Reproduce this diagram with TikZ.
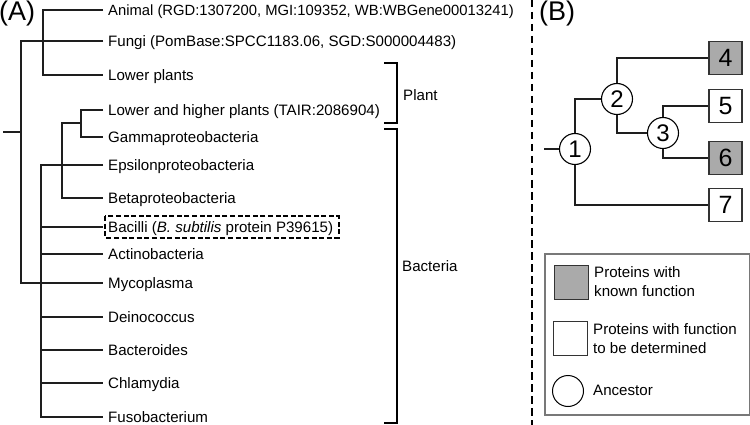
\documentclass[tikz,border=0pt]{standalone}
\usepackage{fontspec}
\setmainfont{Liberation Sans}
\definecolor{knownfill}{RGB}{170,170,170}
\definecolor{legframe}{RGB}{120,120,120}
\definecolor{treeline}{RGB}{30,30,30}
\begin{document}
\begin{tikzpicture}[x=1pt,y=-1pt,
  every node/.style={font=\fontsize{15.1}{19}\selectfont},
  leaf/.style={anchor=west,inner xsep=5pt,inner ysep=0pt,text height=11pt,text depth=0pt},
  tline/.style={draw=treeline,line width=1.2pt},
  bracket/.style={draw=black,line width=1.2pt},
  panel/.style={font=\fontsize{27}{30}\selectfont,anchor=north west,inner sep=0pt},
  anc/.style={circle,draw=black,line width=1.1pt,fill=white,minimum size=31pt,inner sep=0pt,font=\fontsize{24}{26}\selectfont},
  prot/.style={rectangle,draw=black!80,line width=1.1pt,minimum size=33pt,inner sep=0pt,font=\fontsize{25}{26}\selectfont},
  known/.style={prot,fill=knownfill},
  unknown/.style={prot,fill=white},
  legtext/.style={anchor=west,align=left,inner sep=0pt,font=\fontsize{15.1}{19}\selectfont}
]
\useasboundingbox (0,0) rectangle (750,425);

% ---- panel labels
\node[panel] (pa) at (-1,1) {(A)};
\node[panel] (pb) at (539,1) {(B)};

% ---- divider
\coordinate (dv1) at (532,0);
\coordinate (dv2) at (532,425);
\draw[line width=2.8pt,dash pattern=on 7.5pt off 4.5pt] (dv1) -- (dv2);

% ---- leaves of tree A
\node[leaf,font=\fontsize{14.8}{19}\selectfont] (animal) at (103,10) {Animal (RGD:1307200, MGI:109352, WB:WBGene00013241)};
\node[leaf] (fungi) at (103,41) {Fungi (PomBase:SPCC1183.06, SGD:S000004483)};
\node[leaf] (lowerp) at (103,75) {Lower plants};
\node[leaf] (lh) at (103,110) {Lower and higher plants (TAIR:2086904)};
\node[leaf] (gamma) at (103,137) {Gammaproteobacteria};
\node[leaf] (eps) at (103,165) {Epsilonproteobacteria};
\node[leaf] (beta) at (103,198) {Betaproteobacteria};
\node[leaf] (bacilli) at (103,227) {Bacilli (\textit{B. subtilis} protein P39615)};
\node[leaf] (actino) at (103,254) {Actinobacteria};
\node[leaf] (myco) at (103,283) {Mycoplasma};
\node[leaf] (deino) at (103,317) {Deinococcus};
\node[leaf] (bactero) at (103,350) {Bacteroides};
\node[leaf] (chlam) at (103,383) {Chlamydia};
\node[leaf] (fuso) at (103,417) {Fusobacterium};

% ---- internal points
\coordinate (r0) at (3,132);
\coordinate (rA) at (21,132);
\coordinate (cAP) at (43,41);
\coordinate (cLG) at (81,123);
\coordinate (cLGB) at (62,123);
\coordinate (cB) at (41,283);

% ---- branches
\draw[tline] (r0) -- (rA);
\draw[tline] (fungi.west) -| (rA) |- (myco.west);
\draw[tline] (animal.west) -| (cAP) |- (lowerp.west);
\draw[tline] (lh.west) -| (cLG) |- (gamma.west);
\draw[tline] (cLG) -- (cLGB) |- (beta.west);
\draw[tline] (eps.west) -| (cB) |- (fuso.west);
\foreach \lf in {bacilli,actino,deino,bactero,chlam}
  \draw[tline] (cB |- \lf.west) -- (\lf.west);

% ---- highlighted leaf
\coordinate (hb1) at (105,216);
\coordinate (hb2) at (338.5,237.5);
\draw[line width=2pt,dash pattern=on 5pt off 2.6pt] (hb1) rectangle (hb2);

% ---- brackets
\coordinate (pl1) at (384,63);
\coordinate (pl2) at (397,63);
\coordinate (pl3) at (397,123);
\coordinate (pl4) at (384,123);
\draw[bracket] (pl1) -- (pl2) -- (pl3) -- (pl4);
\node[anchor=west,inner sep=0pt,text height=11pt,text depth=0pt] (plant) at (403,95) {Plant};
\coordinate (ba1) at (384,129);
\coordinate (ba2) at (397,129);
\coordinate (ba3) at (397,423);
\coordinate (ba4) at (384,423);
\draw[bracket] (ba1) -- (ba2) -- (ba3) -- (ba4);
\node[anchor=west,inner sep=0pt,text height=11pt,text depth=0pt] (bact) at (402,266) {Bacteria};

% ---- panel B tree
\node[anc] (n1) at (575,149) {1};
\node[anc] (n2) at (617,99) {2};
\node[anc] (n3) at (663,133) {3};
\node[known] (b4) at (725.5,58) {4};
\node[unknown] (b5) at (725.5,106) {5};
\node[known] (b6) at (725.5,158) {6};
\node[unknown] (b7) at (725.5,205) {7};
\coordinate (stub) at (544,149);
\draw[tline] (stub) -- (n1.west);
\draw[tline] (n1.north) |- (n2.west);
\draw[tline] (n1.south) |- (b7.west);
\draw[tline] (n2.north) |- (b4.west);
\draw[tline] (n2.south) |- (n3.west);
\draw[tline] (n3.north) |- (b5.west);
\draw[tline] (n3.south) |- (b6.west);

% ---- legend
\node[draw=legframe,line width=2pt,minimum width=205pt,minimum height=161pt,anchor=north west,inner sep=0pt] (legend) at (544,253) {};
\node[rectangle,draw=black!80,line width=1pt,fill=knownfill,minimum size=34pt,inner sep=0pt] (lk) at (571,282) {};
\node[legtext] (lkt) at (594,281.5) {Proteins with\\known function};
\node[rectangle,draw=black!80,line width=1pt,fill=white,minimum size=34pt,inner sep=0pt] (lu) at (570,338) {};
\node[legtext] (lut) at (593,338.5) {Proteins with function\\to be determined};
\node[circle,draw=black,line width=1pt,minimum size=31pt,inner sep=0pt] (la) at (568,391) {};
\node[legtext] (lat) at (593,390) {Ancestor};
\end{tikzpicture}
\end{document}
